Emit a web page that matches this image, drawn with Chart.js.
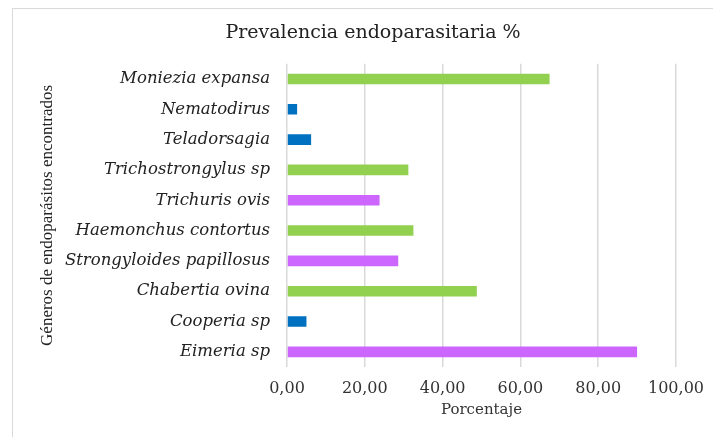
<!DOCTYPE html>
<html>
<head>
<meta charset="utf-8">
<script src="https://cdn.jsdelivr.net/npm/chart.js@4.4.1/dist/chart.umd.min.js"></script>
<style>
    body { margin: 0; background: #fff; }
    .wrap { position: relative; width: 713px; height: 437px; overflow: hidden; }
    .frame { position: absolute; left: 12px; top: 8px; width: 800px; height: 500px; border: 1.5px solid #d9d9d9; }
    canvas { position: absolute; left: 0; top: 0; }
</style>
</head>
<body>
<div class="wrap">
    <div class="frame"></div>
    <canvas id="prevChart" width="713" height="437"></canvas>
</div>
<script>
// Data
const genera = ['Moniezia expansa', 'Nematodirus', 'Teladorsagia', 'Trichostrongylus sp',
    'Trichuris ovis', 'Haemonchus contortus', 'Strongyloides papillosus', 'Chabertia ovina',
    'Cooperia sp', 'Eimeria sp'];
const prevalence = [67.5, 2.6, 6.2, 31.2, 23.8, 32.5, 28.6, 48.8, 5.0, 90.0];
const barColors = ['#92D050', '#0070C0', '#0070C0', '#92D050', '#CC66FF',
    '#92D050', '#CC66FF', '#92D050', '#0070C0', '#CC66FF'];
const xTicks = [0, 20, 40, 60, 80, 100];
const xTickLabels = ['0,00', '20,00', '40,00', '60,00', '80,00', '100,00'];

document.addEventListener('DOMContentLoaded', function() {
    const ctx = document.getElementById('prevChart').getContext('2d');
    new Chart(ctx, {
        type: 'bar',
        data: {
            labels: genera,
            datasets: [{
                data: prevalence,
                backgroundColor: barColors,
                borderWidth: 0,
                barPercentage: 0.35,
                categoryPercentage: 1
            }]
        },
        options: {
            indexAxis: 'y',
            responsive: false,
            animation: false,
            layout: { padding: { top: 12, left: 33, right: 0, bottom: 14 } },
            plugins: {
                legend: { display: false },
                tooltip: { enabled: false },
                title: {
                    display: true,
                    text: 'Prevalencia endoparasitaria %',
                    color: '#222',
                    font: { family: 'DejaVu Serif', size: 19, weight: 'normal' },
                    padding: { top: 10, bottom: 19 }
                }
            },
            scales: {
                x: {
                    min: xTicks[0],
                    max: xTicks[xTicks.length - 1],
                    afterBuildTicks: function(scale) {
                        scale.ticks = xTicks.map(v => ({ value: v }));
                    },
                    afterFit: function(scale) {
                        scale.height = 437 - 14 - 367;
                        scale.paddingRight = 37;
                    },
                    grid: { color: '#d9d9d9', lineWidth: 1.5, drawTicks: false },
                    border: { display: false },
                    ticks: {
                        padding: 12,
                        color: '#333',
                        font: { family: 'DejaVu Serif', size: 16 },
                        callback: (v, i) => xTickLabels[i]
                    },
                    title: {
                        display: true,
                        text: 'Porcentaje',
                        color: '#333',
                        font: { family: 'DejaVu Serif', size: 15 },
                        padding: { top: 4, bottom: 4 }
                    }
                },
                y: {
                    afterFit: function(scale) { scale.width = 287 - 33; },
                    grid: { display: false, drawTicks: false },
                    border: { display: false },
                    ticks: {
                        padding: 17,
                        color: '#222',
                        font: { family: 'DejaVu Serif', size: 16.5, style: 'italic' }
                    },
                    title: {
                        display: true,
                        text: 'Géneros de endoparásitos encontrados',
                        color: '#222',
                        font: { family: 'Liberation Serif', size: 17 },
                        padding: { top: 4, bottom: 4 }
                    }
                }
            }
        }
    });
});
</script>
</body>
</html>
